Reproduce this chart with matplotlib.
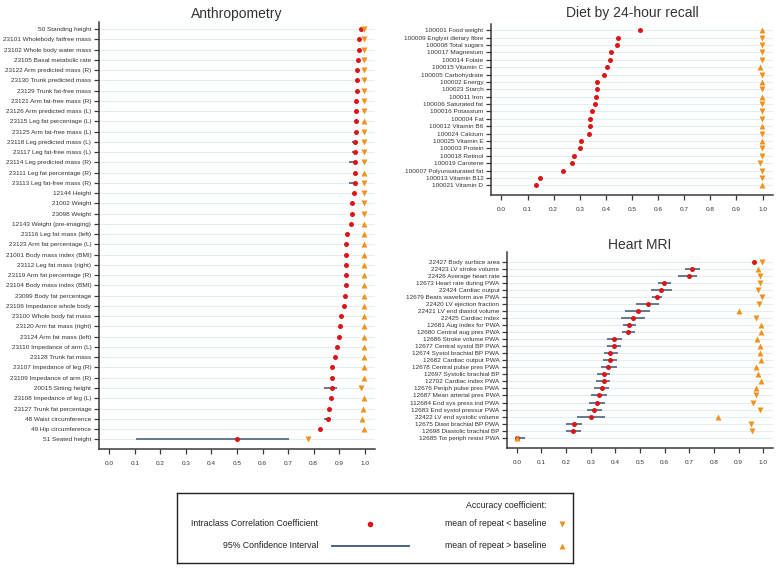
import numpy as np
import matplotlib
matplotlib.use("Agg")
import matplotlib.pyplot as plt
from matplotlib.lines import Line2D

plt.rcParams['font.family'] = ['Liberation Sans', 'DejaVu Sans']

# ---- data ----
anthro_labels = [
    "50 Standing height", "23101 Wholebody fatfree mass", "23102 Whole body water mass",
    "23105 Basal metabolic rate", "23122 Arm predicted mass (R)", "23130 Trunk predicted mass",
    "23129 Trunk fat-free mass", "23121 Arm fat-free mass (R)", "23126 Arm predicted mass (L)",
    "23115 Leg fat percentage (L)", "23125 Arm fat-free mass (L)", "23118 Leg predicted mass (L)",
    "23117 Leg fat-free mass (L)", "23114 Leg predicted mass (R)", "23111 Leg fat percentage (R)",
    "23113 Leg fat-free mass (R)", "12144 Height", "21002 Weight", "23098 Weight",
    "12143 Weight (pre-imaging)", "23116 Leg fat mass (left)", "23123 Arm fat percentage (L)",
    "21001 Body mass index (BMI)", "23112 Leg fat mass (right)", "23119 Arm fat percentage (R)",
    "23104 Body mass index (BMI)", "23099 Body fat percentage", "23106 Impedance whole body",
    "23100 Whole body fat mass", "23120 Arm fat mass (right)", "23124 Arm fat mass (left)",
    "23110 Impedance of arm (L)", "23128 Trunk fat mass", "23107 Impedance of leg (R)",
    "23109 Impedance of arm (R)", "20015 Sitting height", "23108 Impedance of leg (L)",
    "23127 Trunk fat percentage", "48 Waist circumference", "49 Hip circumference",
    "51 Seated height"]
anthro_icc = [0.987, 0.977, 0.977, 0.974, 0.969, 0.969, 0.969, 0.967, 0.965, 0.965, 0.964,
              0.963, 0.963, 0.961, 0.961, 0.961, 0.958, 0.949, 0.949, 0.947, 0.930, 0.927,
              0.926, 0.926, 0.925, 0.925, 0.921, 0.917, 0.905, 0.903, 0.901, 0.893, 0.883,
              0.871, 0.870, 0.870, 0.867, 0.860, 0.855, 0.824, 0.500]
anthro_lo = [0.984, 0.974, 0.974, 0.971, 0.966, 0.966, 0.966, 0.964, 0.962, 0.962, 0.961,
             0.949, 0.949, 0.940, 0.958, 0.940, 0.955, 0.946, 0.946, 0.944, 0.927, 0.924,
             0.923, 0.923, 0.922, 0.922, 0.918, 0.914, 0.902, 0.900, 0.898, 0.890, 0.880,
             0.868, 0.867, 0.839, 0.864, 0.857, 0.839, 0.821, 0.103]
anthro_hi = [0.990, 0.980, 0.980, 0.977, 0.972, 0.972, 0.972, 0.970, 0.968, 0.968, 0.967,
             0.973, 0.973, 0.969, 0.964, 0.969, 0.961, 0.952, 0.952, 0.950, 0.933, 0.930,
             0.929, 0.929, 0.928, 0.928, 0.924, 0.920, 0.908, 0.906, 0.904, 0.896, 0.886,
             0.874, 0.873, 0.892, 0.870, 0.863, 0.866, 0.827, 0.704]
anthro_acc = [0.996, 0.996, 0.996, 0.996, 0.996, 0.996, 0.996, 0.996, 0.996, 0.997, 0.996,
              0.996, 0.996, 0.996, 0.997, 0.996, 0.996, 0.996, 0.996, 0.997, 0.997, 0.997,
              0.997, 0.997, 0.997, 0.997, 0.997, 0.997, 0.997, 0.997, 0.997, 0.997, 0.997,
              0.997, 0.997, 0.987, 0.997, 0.993, 0.991, 0.997, 0.777]
# 1 = mean of repeat > baseline (up), -1 = mean of repeat < baseline (down)
anthro_dir = [-1, -1, -1, -1, -1, -1, -1, -1, -1, 1, -1, -1, -1, -1, 1, -1, -1, -1, -1, 1,
              1, 1, 1, 1, 1, 1, 1, 1, 1, 1, 1, 1, 1, 1, 1, -1, 1, 1, 1, 1, -1]

diet_labels = [
    "100001 Food weight", "100009 Englyst dietary fibre", "100008 Total sugars",
    "100017 Magnesium", "100014 Folate", "100015 Vitamin C", "100005 Carbohydrate",
    "100002 Energy", "100023 Starch", "100011 Iron", "100006 Saturated fat",
    "100016 Potassium", "100004 Fat", "100012 Vitamin B6", "100024 Calcium",
    "100025 Vitamin E", "100003 Protein", "100018 Retinol", "100019 Carotene",
    "100007 Polyunsaturated fat", "100013 Vitamin B12", "100021 Vitamin D"]
diet_icc = [0.531, 0.446, 0.443, 0.419, 0.416, 0.406, 0.391, 0.365, 0.365, 0.362, 0.357,
            0.348, 0.341, 0.340, 0.334, 0.303, 0.300, 0.277, 0.270, 0.234, 0.148, 0.133]
diet_lo = [0.528, 0.443, 0.440, 0.416, 0.413, 0.403, 0.388, 0.362, 0.362, 0.359, 0.354,
           0.345, 0.338, 0.337, 0.331, 0.300, 0.297, 0.274, 0.267, 0.231, 0.145, 0.130]
diet_hi = [0.534, 0.449, 0.446, 0.422, 0.419, 0.409, 0.394, 0.368, 0.368, 0.365, 0.360,
           0.351, 0.344, 0.343, 0.337, 0.306, 0.303, 0.280, 0.273, 0.237, 0.151, 0.136]
diet_acc = [0.998, 0.998, 0.998, 0.998, 0.998, 0.990, 0.998, 0.998, 0.998, 0.998, 0.998,
            0.998, 0.998, 0.998, 0.998, 0.998, 0.998, 0.998, 0.990, 0.998, 0.998, 0.998]
diet_dir = [1, -1, -1, -1, -1, 1, -1, 1, -1, 1, -1, -1, -1, 1, -1, 1, -1, -1, -1, -1, -1, 1]

heart_labels = [
    "22427 Body surface area", "22423 LV stroke volume", "22426 Average heart rate",
    "12673 Heart rate during PWA", "22424 Cardiac output", "12679 Beats waveform ave PWA",
    "22420 LV ejection fraction", "22421 LV end diastol volume", "22425 Cardiac index",
    "12681 Aug index for PWA", "12680 Central aug pres PWA", "12686 Stroke volume PWA",
    "12677 Central systol BP PWA", "12674 Systol brachial BP PWA", "12682 Cardiac output PWA",
    "12678 Central pulse pres PWA", "12697 Systolic brachial BP", "12702 Cardiac index PWA",
    "12676 Periph pulse pres PWA", "12687 Mean arterial pres PWA", "112684 End sys press ind PWA",
    "12683 End systol pressur PWA", "22422 LV end systolic volume", "12675 Diast brachial BP PWA",
    "12698 Diastolic brachial BP", "12685 Tot periph resist PWA"]
heart_icc = [0.963, 0.713, 0.697, 0.598, 0.587, 0.567, 0.532, 0.491, 0.472, 0.456, 0.453,
             0.396, 0.394, 0.380, 0.379, 0.372, 0.352, 0.352, 0.345, 0.334, 0.326, 0.314,
             0.303, 0.230, 0.229, 0.000]
heart_lo = [0.960, 0.681, 0.656, 0.575, 0.543, 0.547, 0.484, 0.441, 0.422, 0.430, 0.428,
            0.364, 0.368, 0.355, 0.350, 0.342, 0.326, 0.323, 0.315, 0.303, 0.294, 0.283,
            0.244, 0.198, 0.198, 0.000]
heart_hi = [0.966, 0.743, 0.731, 0.624, 0.629, 0.590, 0.578, 0.540, 0.522, 0.482, 0.479,
            0.428, 0.421, 0.410, 0.407, 0.405, 0.380, 0.380, 0.376, 0.364, 0.357, 0.345,
            0.357, 0.263, 0.260, 0.034]
heart_acc = [0.997, 0.978, 0.989, 0.989, 0.978, 0.997, 0.985, 0.900, 0.970, 0.993, 0.991,
             0.977, 0.988, 0.988, 0.993, 0.969, 0.980, 0.991, 0.969, 0.973, 0.957, 0.986,
             0.815, 0.951, 0.953, 0.000]
heart_dir = [-1, 1, -1, -1, -1, -1, -1, 1, -1, 1, 1, 1, 1, 1, 1, 1, 1, 1, 1, -1, -1, -1,
             1, -1, -1, 1]

RED = '#dd1515'
ORANGE = '#f0921e'
CI_COL = '#3d5675'
GRID = '#e4edf1'
SPINE = '#3a3a3a'


def panel(ax, title, labels, icc, lo, hi, acc, dirs, ylim, pad):
    y = np.arange(len(labels))
    ax.set_axisbelow(True)
    ax.grid(axis='y', color=GRID, lw=0.8)
    ax.hlines(y, lo, hi, color=CI_COL, lw=1.1, zorder=2)
    ax.plot(icc, y, 'o', color=RED, ms=3.6, mec='none', zorder=3)
    acc = np.array(acc)
    dirs = np.array(dirs)
    up = dirs > 0
    ax.plot(acc[up], y[up], '^', color=ORANGE, ms=4.2, mec='none', zorder=4)
    ax.plot(acc[~up], y[~up], 'v', color=ORANGE, ms=4.2, mec='none', zorder=4)
    ax.set_yticks(y)
    ax.set_yticklabels(labels)
    ax.set_xlim(-0.04, 1.04)
    ax.set_ylim(*ylim)
    ax.set_xticks(np.arange(0, 1.01, 0.1))
    ax.set_xticklabels(['%.1f' % v for v in np.arange(0, 1.01, 0.1)])
    ax.tick_params(axis='both', labelsize=4.6, length=3.5, width=0.9, color=SPINE,
                   labelcolor='#333333', pad=2)
    ax.tick_params(axis='x', pad=5)
    for s in ['top', 'right']:
        ax.spines[s].set_visible(False)
    for s in ['left', 'bottom']:
        ax.spines[s].set_color(SPINE)
        ax.spines[s].set_linewidth(1.1)
    ax.set_title(title, fontsize=10, color='#333333', pad=pad)


fig = plt.figure(figsize=(7.8, 5.69), dpi=100)
W, H = 780.0, 569.0


def rect(x0, x1, y0, y1):
    return [x0 / W, 1 - y1 / H, (x1 - x0) / W, (y1 - y0) / H]


ax1 = fig.add_axes(rect(99, 375, 22, 449))
panel(ax1, "Anthropometry", anthro_labels, anthro_icc, anthro_lo, anthro_hi,
      anthro_acc, anthro_dir, (40.95, -0.7), 3)

ax2 = fig.add_axes(rect(491, 773, 24, 195))
panel(ax2, "Diet by 24-hour recall", diet_labels, diet_icc, diet_lo, diet_hi,
      diet_acc, diet_dir, (22.31, -0.85), 5)

ax3 = fig.add_axes(rect(507, 773, 252, 448))
panel(ax3, "Heart MRI", heart_labels, heart_icc, heart_lo, heart_hi,
      heart_acc, heart_dir, (26.46, -1.38), 2)

# legend box
lx0, lx1, ly0, ly1 = 177, 573, 493, 563
lg = fig.add_axes(rect(lx0, lx1, ly0, ly1))
lg.set_xlim(lx0, lx1)
lg.set_ylim(ly1, ly0)
lg.set_xticks([])
lg.set_yticks([])
for s in lg.spines.values():
    s.set_color('#222222')
    s.set_linewidth(1.0)
fs = 6.3
lg.text(546, 506, "Accuracy coefficient:", fontsize=fs, ha='right', va='center', color='#222222')
lg.text(318, 524, "Intraclass Correlation Coefficient", fontsize=fs, ha='right', va='center', color='#222222')
lg.text(318, 546, "95% Confidence Interval", fontsize=fs, ha='right', va='center', color='#222222')
lg.text(546, 524, "mean of repeat < baseline", fontsize=fs, ha='right', va='center', color='#222222')
lg.text(546, 546, "mean of repeat > baseline", fontsize=fs, ha='right', va='center', color='#222222')
lg.add_line(Line2D([370], [524], marker='o', color=RED, ms=4.0, mec='none'))
lg.add_line(Line2D([332, 409], [546, 546], color=CI_COL, lw=1.3))
lg.add_line(Line2D([562], [524], marker='v', color=ORANGE, ms=4.8, mec='none'))
lg.add_line(Line2D([562], [546], marker='^', color=ORANGE, ms=4.8, mec='none'))

fig.savefig('out.png', dpi=100)
